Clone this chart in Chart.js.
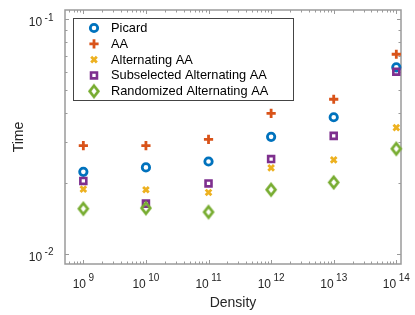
<!DOCTYPE html>
<html>
<head>
<meta charset="utf-8">
<script src="https://cdn.jsdelivr.net/npm/chart.js@4"></script>
<style>
  body { margin: 0; background: #fff; }
  canvas { display: block; }
</style>
</head>
<body>
<canvas id="timeChart" width="415" height="315"></canvas>
<script>
// values (log-log)
const density = [1e9, 1e10, 1e11, 1e12, 1e13, 1e14];
const picard = [0.0224, 0.0234, 0.0248, 0.0316, 0.0383, 0.0625];
const aa = [0.0290, 0.0290, 0.0308, 0.0398, 0.0457, 0.0711];
const altAA = [0.0189, 0.0188, 0.0183, 0.0233, 0.0252, 0.0346];
const subAltAA = [0.0205, 0.0164, 0.0200, 0.0254, 0.0319, 0.0599];
const randAltAA = [0.0156, 0.0157, 0.0151, 0.0188, 0.0202, 0.0281];

const methodNames = ['Picard', 'AA', 'Alternating AA', 'Subselected Alternating AA', 'Randomized Alternating AA'];
const xTickExps = [9, 10, 11, 12, 13, 14];
const yTickExps = [-2, -1];

const FONT = '"Liberation Sans", Arial, Helvetica, sans-serif';
const AXIS_GRAY = '#9a9a9a';

// MATLAB-like diamond is a bit taller than wide, so build it as a small image
function makeDiamond(color) {
    const c = document.createElement('canvas');
    c.width = 16; c.height = 17;
    const g = c.getContext('2d');
    g.strokeStyle = color;
    g.lineWidth = 2.8;
    g.beginPath();
    g.moveTo(8, 3);
    g.lineTo(12.3, 8.5);
    g.lineTo(8, 14);
    g.lineTo(3.7, 8.5);
    g.closePath();
    g.stroke();
    return c;
}

// marker styles (MATLAB default colour order)
const markers = [
    { color: '#0072BD', pointStyle: 'circle', radius: 3.7, borderWidth: 2.8 },
    { color: '#D95319', pointStyle: 'cross', radius: 4.6, borderWidth: 2.8 },
    { color: '#EDB120', pointStyle: 'crossRot', radius: 4, borderWidth: 2.8 },
    { color: '#7E2F8E', pointStyle: 'rect', radius: 4.2, borderWidth: 2.6 },
    { color: '#77AC30', pointStyle: makeDiamond('#77AC30'), radius: 6, borderWidth: 2.8 }
];

function toPoints(ys) {
    return density.map((x, i) => ({ x: x, y: ys[i] }));
}

const series = [picard, aa, altAA, subAltAA, randAltAA];

const datasets = series.map((ys, i) => ({
    label: methodNames[i],
    data: toPoints(ys),
    showLine: false,
    pointStyle: markers[i].pointStyle,
    pointRadius: markers[i].radius,
    pointBorderWidth: markers[i].borderWidth,
    pointBorderColor: markers[i].color,
    pointBackgroundColor: 'rgba(0,0,0,0)',
    order: series.length - i, // later series drawn on top
    clip: false
}));

function drawPower(ctx, exp, x, baseY, raise, align) {
    ctx.font = '12px ' + FONT;
    const wb = ctx.measureText('10').width;
    ctx.font = '10px ' + FONT;
    const we = ctx.measureText(String(exp)).width;
    const gap = 2.5;
    const total = wb + gap + we;
    const left = align === 'center' ? x - total / 2 : x - total;
    ctx.textAlign = 'left';
    ctx.textBaseline = 'alphabetic';
    ctx.font = '12px ' + FONT;
    ctx.fillText('10', left, baseY);
    ctx.font = '10px ' + FONT;
    ctx.fillText(String(exp), left + wb + gap, baseY - raise);
}

function drawMarker(ctx, m, x, y) {
    ctx.strokeStyle = m.color;
    ctx.fillStyle = 'rgba(0,0,0,0)';
    ctx.lineWidth = m.borderWidth;
    Chart.helpers.drawPoint(ctx, { pointStyle: m.pointStyle, radius: m.radius, borderWidth: m.borderWidth, rotation: 0 }, x, y);
}

const matlabAxes = {
    id: 'matlabAxes',
    beforeDatasetsDraw(chart) {
        const ctx = chart.ctx;
        const a = chart.chartArea;
        const xs = chart.scales.x;
        const ys = chart.scales.y;
        ctx.save();
        ctx.strokeStyle = AXIS_GRAY;
        ctx.lineWidth = 1;

        // x ticks, inward on bottom and top
        ctx.beginPath();
        for (let e = 8; e <= 14; e++) {
            for (let m = 1; m <= 9; m++) {
                const v = m * Math.pow(10, e);
                if (v < xs.min || v > xs.max) continue;
                const px = Math.round(xs.getPixelForValue(v)) + 0.5;
                const len = m === 1 ? 4 : 2.5;
                ctx.moveTo(px, a.bottom); ctx.lineTo(px, a.bottom - len);
                ctx.moveTo(px, a.top); ctx.lineTo(px, a.top + len);
            }
        }
        // y ticks, inward on left and right
        for (let e = -3; e <= -1; e++) {
            for (let m = 1; m <= 9; m++) {
                const v = m * Math.pow(10, e);
                if (v < ys.min || v > ys.max) continue;
                const py = Math.round(ys.getPixelForValue(v)) + 0.5;
                const len = m === 1 ? 4 : 2.5;
                ctx.moveTo(a.left, py); ctx.lineTo(a.left + len, py);
                ctx.moveTo(a.right, py); ctx.lineTo(a.right - len, py);
            }
        }
        ctx.stroke();

        // box
        ctx.lineWidth = 1.5;
        ctx.strokeRect(a.left, a.top, a.right - a.left, a.bottom - a.top);

        // tick labels
        ctx.fillStyle = '#262626';
        xTickExps.forEach(e => {
            drawPower(ctx, e, xs.getPixelForValue(Math.pow(10, e)), a.bottom + 23.5, 7, 'center');
        });
        yTickExps.forEach(e => {
            drawPower(ctx, e, a.left - 11.5, ys.getPixelForValue(Math.pow(10, e)) + 6.8, 5.5, 'right');
        });

        // axis titles
        ctx.font = '14px ' + FONT;
        ctx.textAlign = 'center';
        ctx.textBaseline = 'alphabetic';
        ctx.fillText('Density', (a.left + a.right) / 2, 307);
        ctx.save();
        ctx.translate(23, (a.top + a.bottom) / 2);
        ctx.rotate(-Math.PI / 2);
        ctx.fillText('Time', 0, 0);
        ctx.restore();
        ctx.restore();
    },
    afterDraw(chart) {
        const ctx = chart.ctx;
        ctx.save();
        // legend box, top-left inside the axes
        const lx = 73, ly = 18, lw = 220, lh = 82;
        ctx.fillStyle = '#fff';
        ctx.fillRect(lx, ly, lw, lh);
        ctx.strokeStyle = '#444';
        ctx.lineWidth = 1;
        ctx.strokeRect(lx + 0.5, ly + 0.5, lw, lh);
        methodNames.forEach((name, i) => {
            const rowY = 28 + i * 15.8;
            drawMarker(ctx, markers[i], 94, rowY);
            ctx.fillStyle = '#000';
            ctx.font = '12.8px ' + FONT;
            ctx.textAlign = 'left';
            ctx.textBaseline = 'middle';
            ctx.fillText(name, 111, rowY + 0.5);
        });
        ctx.restore();
    }
};

var ctx1 = document.getElementById('timeChart').getContext('2d');
new Chart(ctx1, {
    type: 'scatter',
    data: { datasets: datasets },
    options: {
        responsive: false,
        animation: false,
        events: [],
        layout: { padding: { left: 65, top: 10, right: 14, bottom: 51 } },
        scales: {
            x: {
                type: 'logarithmic',
                display: false,
                min: Math.pow(10, 8.707),
                max: Math.pow(10, 14.075)
            },
            y: {
                type: 'logarithmic',
                display: false,
                min: Math.pow(10, -2.0426),
                max: Math.pow(10, -0.9595)
            }
        },
        plugins: {
            legend: { display: false },
            tooltip: { enabled: false }
        }
    },
    plugins: [matlabAxes]
});
</script>
</body>
</html>
